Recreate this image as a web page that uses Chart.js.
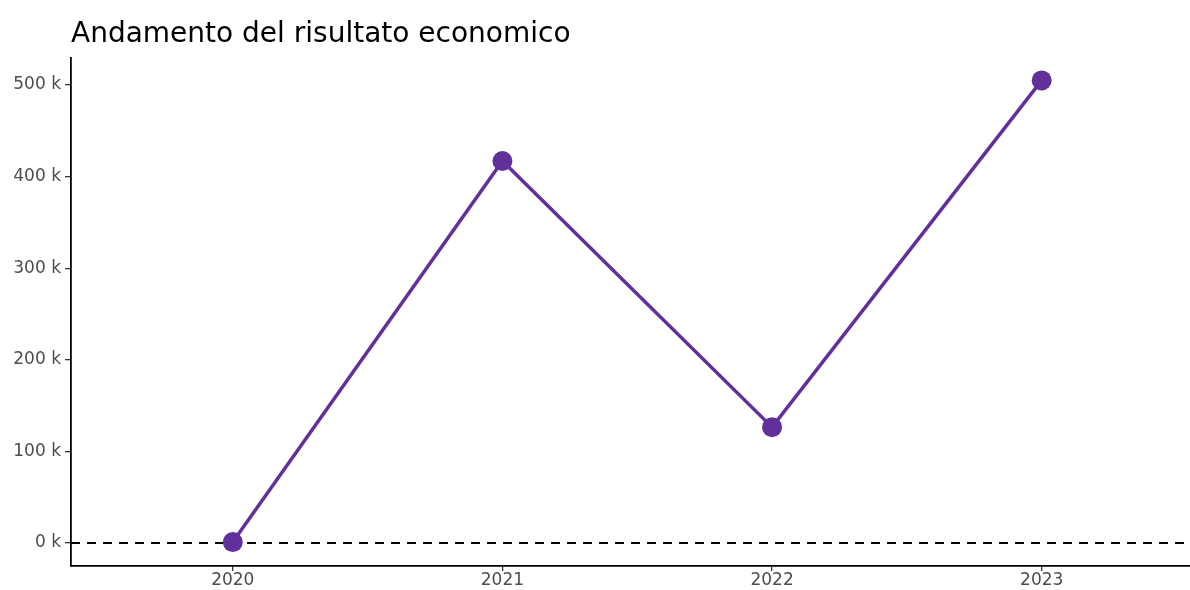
<!DOCTYPE html>
<html>
<head>
<meta charset="utf-8">
<script src="https://cdn.jsdelivr.net/npm/chart.js@4.4.1/dist/chart.umd.min.js"></script>
<style>
  html, body { margin: 0; padding: 0; background: #fff; overflow: hidden; }
  #wrap { width: 1190px; height: 590px; position: relative; }
</style>
</head>
<body>
<div id="wrap"><canvas id="chartCanvas" width="1190" height="590"></canvas></div>
<script>
// dati
var anni = [2020, 2021, 2022, 2023];
var risultato = [1000, 417000, 126500, 505000];
var yTicks = [0, 100000, 200000, 300000, 400000, 500000];
var titolo = 'Andamento del risultato economico';

var viola = '#61309a';
var fontFam = "'DejaVu Sans', sans-serif";

// linea tratteggiata a zero + titolo allineato al pannello
var extraPlugin = {
  id: 'extra',
  beforeDatasetsDraw: function (chart) {
    var ctx = chart.ctx, area = chart.chartArea;
    var y0 = chart.scales.y.getPixelForValue(0);
    ctx.save();
    ctx.strokeStyle = '#000';
    ctx.lineWidth = 1.8;
    ctx.setLineDash([9, 7]);
    ctx.beginPath();
    ctx.moveTo(area.left, y0);
    ctx.lineTo(area.right, y0);
    ctx.stroke();
    ctx.restore();
  },
  afterDraw: function (chart) {
    var ctx = chart.ctx;
    ctx.save();
    ctx.fillStyle = '#000';
    ctx.font = '28px ' + fontFam;
    ctx.textBaseline = 'alphabetic';
    ctx.fillText(titolo, chart.chartArea.left, 42);
    ctx.restore();
  }
};

var chartLine = new Chart(document.getElementById('chartCanvas').getContext('2d'), {
  type: 'line',
  data: {
    datasets: [{
      data: anni.map(function (a, i) { return { x: a, y: risultato[i] }; }),
      borderColor: viola,
      backgroundColor: viola,
      borderWidth: 3.5,
      pointRadius: 10,
      pointBackgroundColor: viola,
      pointBorderColor: viola,
      pointBorderWidth: 0,
      tension: 0
    }]
  },
  options: {
    responsive: false,
    animation: false,
    layout: { autoPadding: false, padding: { top: 58, right: 0, bottom: 0, left: 0 } },
    plugins: { legend: { display: false }, tooltip: { enabled: false } },
    scales: {
      x: {
        type: 'linear',
        min: 2019.4,
        max: 2023.55,
        afterBuildTicks: function (s) { s.ticks = anni.map(function (a) { return { value: a }; }); },
        afterFit: function (s) { s.height = 24; },
        border: { display: true, color: '#000', width: 1.8 },
        grid: { drawOnChartArea: false, drawTicks: true, tickLength: 5, color: '#333', lineWidth: 1.3 },
        ticks: {
          color: '#4d4d4d',
          font: { family: fontFam, size: 17, lineHeight: 1 },
          padding: 1,
          maxRotation: 0,
          callback: function (v) { return String(v); }
        }
      },
      y: {
        min: -25100,
        max: 529500,
        afterBuildTicks: function (s) { s.ticks = yTicks.map(function (t) { return { value: t }; }); },
        afterFit: function (s) { s.width = 71; },
        border: { display: true, color: '#000', width: 1.8 },
        grid: { drawOnChartArea: false, drawTicks: true, tickLength: 6, color: '#333', lineWidth: 1.3 },
        ticks: {
          color: '#4d4d4d',
          font: { family: fontFam, size: 17 },
          padding: 4,
          callback: function (v) { return (v / 1000) + ' k'; }
        }
      }
    }
  },
  plugins: [extraPlugin]
});
</script>
</body>
</html>
